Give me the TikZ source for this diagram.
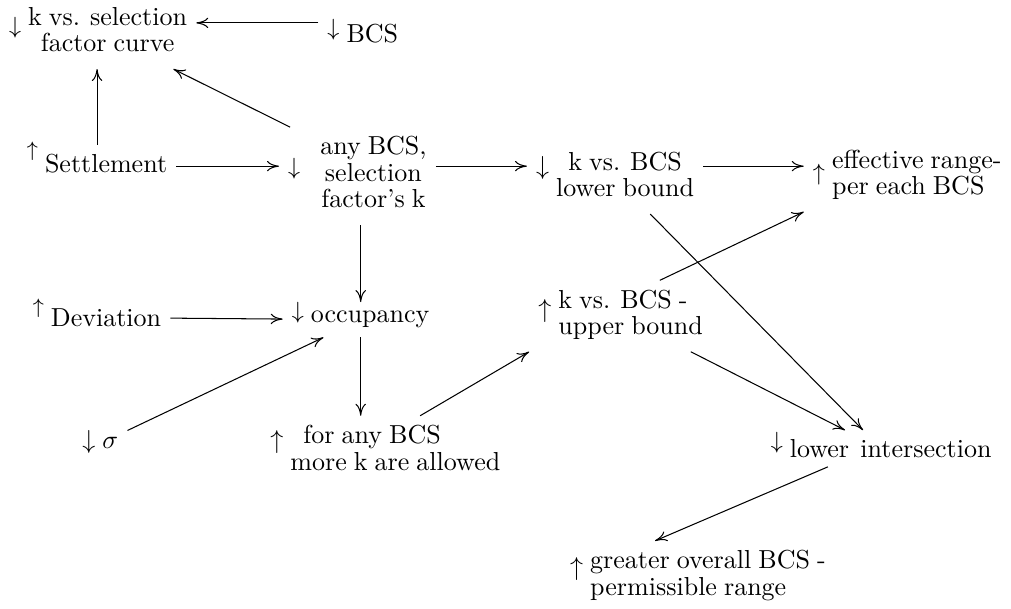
\documentclass[tikz,border=0pt]{standalone}
\usepackage{amsmath,amssymb}
\usepackage{tikz}
\usetikzlibrary{arrows.meta,positioning,calc}

% a raised trend arrow in front of a label, kept out of the node's height
\newcommand{\trend}[3][\normalsize]{\smash{\raisebox{#2}{#1$#3$}}\ }
% lines of a label, centred unless asked otherwise
\newcommand{\stacked}[2][c]{\begin{tabular}{@{}#1@{}}#2\end{tabular}}
\renewcommand{\arraystretch}{0.85}

\begin{document}
\begin{tikzpicture}[>={Computer Modern Rightarrow[length=4.6pt,width=4pt]}, every node/.style={anchor=west, execute at begin node={\spaceskip=.27em\relax}}]
            \useasboundingbox (0,0) rectangle (13.66,8.22);

            % top row
            \node (curve) at (0.00,7.77) {\trend[\small]{2.5pt}{\downarrow}\stacked{k vs. selection\\factor curve}};
            \node (bcs) at (4.30,7.77) {\trend[\small]{2.5pt}{\downarrow}BCS};

            % second row
            \node (settle) at (0.24,6.01) {\trend[\footnotesize]{6pt}{\uparrow}Settlement};
            \node (anyk) at (3.77,5.84) {\trend[\small]{3pt}{\downarrow}\hspace{5pt}\stacked{any BCS,\\selection\\factor's k}};
            \node (lowerb) at (7.12,5.81) {\trend{4pt}{\downarrow}\stacked{k vs. BCS\\lower bound}};
            \node (effrange) at (10.86,5.84) {\trend[\small]{1pt}{\uparrow}\stacked[l]{effective range-\\per each BCS}};

            % third row
            \node (dev) at (0.32,3.93) {\trend[\footnotesize]{5pt}{\uparrow}Deviation};
            \node (occup) at (3.82,3.90) {\trend[\small]{1.5pt}{\downarrow}occupancy};
            \node (upperb) at (7.15,3.95) {\trend{2pt}{\uparrow}\stacked[l]{k vs. BCS -\\upper bound}};

            % fourth row
            \node (sigma) at (0.99,2.23) {\trend{0pt}{\downarrow}$\sigma$};
            \node (forany) at (3.53,2.12) {\trend{3.5pt}{\uparrow}\stacked[l]{\hspace*{5pt}for any BCS\\more k are allowed}};
            \node (lowerint) at (10.29,2.16) {\trend[\small]{3.5pt}{\downarrow}lower~\,intersection};

            % bottom
            \node (greater) at (7.58,0.43) {\trend{3pt}{\uparrow}\stacked[l]{greater overall BCS -\\permissible range}};

            \draw[->] ([yshift=4pt]bcs.west) -- ([yshift=4pt]bcs.west -| curve.east);
            \draw[->] (settle) -- (settle |- curve.south);
            \draw[->] ([xshift=0.15cm]anyk.north west) -- ([xshift=-0.31cm]curve.south east);
            \draw[->] ([yshift=-1pt]settle.east) -- ([yshift=-1pt]settle.east -| anyk.west);
            \draw[->] ([yshift=-1pt]anyk.east |- settle) -- ([yshift=-1pt]lowerb.west |- settle);
            \draw[->] ([yshift=-1pt]lowerb.east |- settle) -- ([yshift=-1pt]effrange.west |- settle);
            \draw[->] (anyk.south -| occup) -- (occup);
            \draw[->] (dev) -- (occup);
            \draw[->] (sigma) -- (occup);
            \draw[->] (occup) -- (occup |- forany.north);
            \draw[->] ([xshift=0.47cm]forany.north) -- (upperb.south west);
            \draw[->] ([xshift=0.53cm]upperb.north) -- (effrange.south west);
            \draw[->] (lowerb) -- (lowerint);
            \draw[->] (upperb) -- (lowerint);
            \draw[->] ([xshift=-0.72cm]lowerint.south) -- ([xshift=-0.58cm]greater.north);
        \end{tikzpicture}
\end{document}
